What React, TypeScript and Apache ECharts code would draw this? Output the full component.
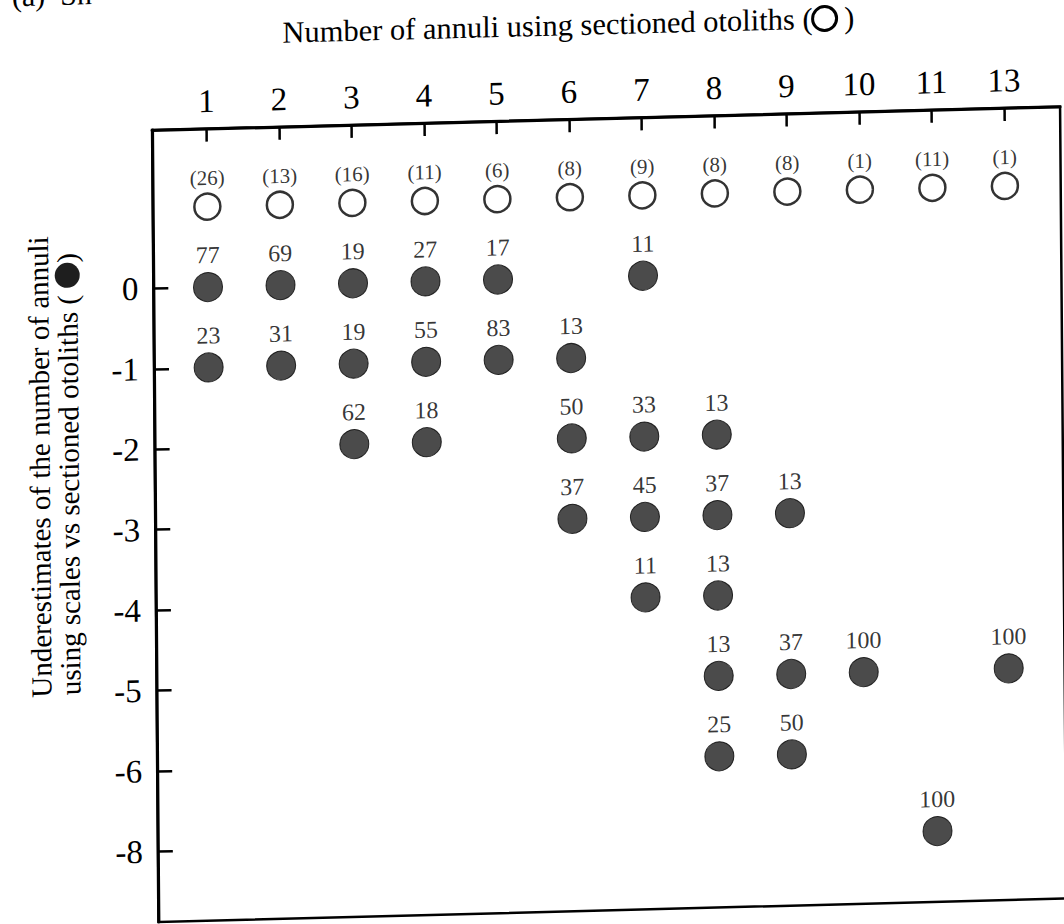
import React, { useEffect, useRef } from "react";
import * as echarts from "echarts";

// ---- data ----
const xCategories = ["1", "2", "3", "4", "5", "6", "7", "8", "9", "10", "11", "13"];
const sampleSizes = [26, 13, 16, 11, 6, 8, 9, 8, 8, 1, 11, 1];
const yTickLabels = ["0", "-1", "-2", "-3", "-4", "-5", "-6", "-8"];

const ptAge = ["1", "1", "2", "2", "3", "3", "3", "4", "4", "4", "5", "5", "6", "6", "6", "7", "7", "7", "7", "8", "8", "8", "8", "8", "9", "9", "9", "10", "11", "13"];
const ptDiff = [0, -1, 0, -1, 0, -1, -2, 0, -1, -2, 0, -1, -1, -2, -3, 0, -2, -3, -4, -2, -3, -4, -5, -6, -3, -5, -6, -5, -8, -5];
const ptPct = [77, 23, 69, 31, 19, 19, 62, 27, 55, 18, 17, 83, 13, 50, 37, 11, 33, 45, 11, 13, 37, 13, 13, 25, 13, 37, 50, 100, 100, 100];

const SERIF = "Liberation Serif";
const INK = "#000";
const DOT = "#1e1e1e";

export default function App() {
  const ref = useRef<HTMLDivElement>(null);
  useEffect(() => {
    if (!ref.current) return;
    const chart = echarts.init(ref.current, null, { renderer: "svg" });
    const openData = xCategories.map((c, i) => [i, 1, sampleSizes[i]]);
    const filledData = ptAge.map((a, k) => [
      xCategories.indexOf(a),
      -yTickLabels.indexOf(String(ptDiff[k])),
      ptPct[k],
    ]);
    const xTicks = xCategories.map((_, i) => i);
    const yTicks = yTickLabels.map((_, i) => -i);
    chart.setOption({
      animation: false,
      backgroundColor: "#fff",
      grid: {
        left: 151,
        top: 134,
        right: 5,
        bottom: 34,
        show: true,
        borderColor: INK,
        borderWidth: 2.5,
      },
      xAxis: {
        type: "value",
        position: "top",
        min: -0.754,
        max: 11.77,
        splitLine: { show: false },
        axisLine: { show: true, onZero: false, lineStyle: { color: INK, width: 3 } },
        axisTick: {
          show: true,
          inside: true,
          length: 13,
          customValues: xTicks,
          lineStyle: { color: INK, width: 2.5 },
        },
        axisLabel: {
          customValues: xTicks,
          formatter: (v: number) => xCategories[Math.round(v)] ?? "",
          fontFamily: SERIF,
          fontSize: 33,
          color: INK,
          margin: 11,
        },
      },
      yAxis: {
        type: "value",
        min: -7.88,
        max: 1.97,
        splitLine: { show: false },
        axisLine: { show: true, onZero: false, lineStyle: { color: INK, width: 3 } },
        axisTick: {
          show: true,
          inside: true,
          length: 15,
          customValues: yTicks,
          lineStyle: { color: INK, width: 2.5 },
        },
        axisLabel: {
          customValues: yTicks,
          formatter: (v: number) => yTickLabels[-Math.round(v)] ?? "",
          fontFamily: SERIF,
          fontSize: 33,
          color: INK,
          margin: 15,
        },
      },
      graphic: [
        {
          type: "text",
          x: 12,
          y: 11,
          style: {
            text: "(a)  Sn",
            fontFamily: SERIF,
            fontSize: 30,
            fill: INK,
            verticalAlign: "bottom",
          },
        },
        {
          type: "text",
          x: 282,
          y: 40,
          style: {
            text: "Number of annuli using sectioned otoliths ({c| } )",
            fontFamily: SERIF,
            fontSize: 30.5,
            fill: INK,
            verticalAlign: "middle",
            rich: {
              c: {
                width: 24,
                height: 24,
                borderRadius: 13,
                borderWidth: 3,
                borderColor: INK,
                fontSize: 10,
              },
            },
          },
        },
        {
          type: "text",
          x: 36,
          y: 468,
          rotation: Math.PI / 2,
          style: {
            text: "Underestimates of the number of annuli",
            fontFamily: SERIF,
            fontSize: 29,
            fill: INK,
            align: "center",
            verticalAlign: "middle",
          },
        },
        {
          type: "text",
          x: 65,
          y: 476,
          rotation: Math.PI / 2,
          style: {
            text: "using scales vs sectioned otoliths ( {d| })",
            fontFamily: SERIF,
            fontSize: 29,
            fill: INK,
            align: "center",
            verticalAlign: "middle",
            rich: {
              d: {
                width: 25,
                height: 25,
                borderRadius: 13,
                backgroundColor: DOT,
                fontSize: 10,
              },
            },
          },
        },
      ],
      series: [
        {
          type: "scatter",
          data: openData,
          symbol: "circle",
          symbolSize: 26,
          itemStyle: { color: "#fff", borderColor: INK, borderWidth: 2.5 },
          label: {
            show: true,
            position: "top",
            distance: 4,
            formatter: (p: any) => `(${p.value[2]})`,
            fontFamily: SERIF,
            fontSize: 21,
            color: INK,
          },
        },
        {
          type: "scatter",
          data: filledData,
          symbol: "circle",
          symbolSize: 29,
          itemStyle: { color: DOT, borderColor: "#000", borderWidth: 1 },
          label: {
            show: true,
            position: "top",
            distance: 5,
            formatter: (p: any) => `${p.value[2]}`,
            fontFamily: SERIF,
            fontSize: 24,
            color: INK,
          },
        },
      ],
    });
    return () => chart.dispose();
  }, []);

  return (
    <div
      style={{
        position: "fixed",
        left: 0,
        top: 0,
        width: 1064,
        height: 924,
        overflow: "hidden",
        background: "#fff",
      }}
    >
      <div
        ref={ref}
        style={{
          width: 1064,
          height: 960,
          transform: "matrix(1, -0.026, 0.008, 1, 0, 0)",
          transformOrigin: "0 0",
        }}
      />
    </div>
  );
}
